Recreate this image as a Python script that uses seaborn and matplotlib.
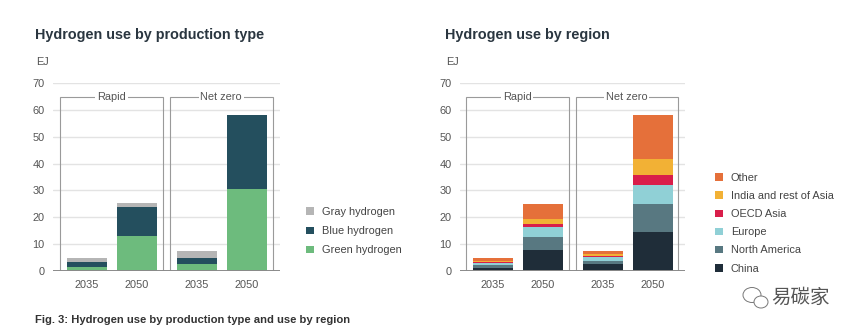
import matplotlib
matplotlib.use("Agg")
import matplotlib.pyplot as plt
import seaborn as sns
import pandas as pd
import numpy as np
from matplotlib.patches import Patch, Ellipse

# ---------------- data ----------------
scenarios = ["Rapid", "Net zero"]
years = ["2035", "2050", "2035", "2050"]

# Hydrogen use by production type (EJ): Rapid 2035, Rapid 2050, NZ 2035, NZ 2050
green_h2 = [1.5, 13.1, 2.4, 30.6]
blue_h2 = [1.6, 10.7, 2.5, 27.6]
gray_h2 = [1.8, 1.4, 2.6, 0.0]
prod_labels = ["Green hydrogen", "Blue hydrogen", "Gray hydrogen"]

# Hydrogen use by region (EJ)
china = [1.1, 7.6, 2.4, 14.4]
north_america = [0.9, 4.9, 1.1, 10.5]
europe = [0.9, 3.7, 1.7, 7.1]
oecd_asia = [0.3, 1.4, 0.4, 3.9]
india_asia = [0.4, 1.8, 0.6, 5.7]
other = [1.3, 5.6, 1.1, 16.6]
region_labels = ["China", "North America", "Europe", "OECD Asia",
                 "India and rest of Asia", "Other"]

prod_colors = ["#6dbb7d", "#244f5e", "#b5b5b5"]
region_colors = ["#1f2d39", "#587881", "#90d0d6", "#d91e4a", "#f2b135", "#e5703a"]

# ---------------- style ----------------
sns.set_theme(style="white")
plt.rcParams["font.family"] = ["Liberation Sans", "Noto Sans CJK SC", "DejaVu Sans"]

TXT = "#555555"
DARK = "#2a3640"
FS = 7.9
pos = np.array([0.0, 1.0, 2.2, 3.2])

fig = plt.figure(figsize=(8.58, 3.34), dpi=100)
W, H = 858.0, 334.0


def axes_px(x0, x1, ytop, ybot):
    return fig.add_axes([x0 / W, 1 - ybot / H, (x1 - x0) / W, (ybot - ytop) / H])


def stacked(ax, layers, colors):
    cum = np.zeros(len(pos))
    tops = []
    for vals in layers:
        cum = cum + np.asarray(vals, dtype=float)
        tops.append(cum.copy())
    for top, c in reversed(list(zip(tops, colors))):
        df = pd.DataFrame({"pos": pos, "val": top})
        sns.barplot(data=df, x="pos", y="val", color=c, width=0.8,
                    native_scale=True, errorbar=None, saturation=1,
                    linewidth=0, ax=ax, zorder=3)


def decorate(ax, title, xl, xr, title_x):
    ax.set_xlim(xl, xr)
    ax.set_ylim(0, 70)
    for s in ax.spines.values():
        s.set_visible(False)
    ax.set_yticks(range(0, 71, 10))
    ax.yaxis.grid(True, color="#e3e3e3", linewidth=1.0, zorder=0)
    ax.set_axisbelow(True)
    ax.axhline(0, color="#8a8a8a", linewidth=1.4, zorder=5)
    ax.set_xticks(pos)
    ax.set_xticklabels(years)
    ax.set_xlabel("")
    ax.set_ylabel("")
    ax.tick_params(axis="both", length=0, labelsize=FS, colors=TXT)
    ax.tick_params(axis="x", pad=7)
    ax.tick_params(axis="y", pad=6)
    # scenario boxes
    boxes = [(-0.54, 1.52), (1.66, 3.71)]
    for (b0, b1), name in zip(boxes, scenarios):
        ax.plot([b0, b0, b1, b1], [0, 65, 65, 0], color="#9a9a9a",
                linewidth=0.8, zorder=4, solid_joinstyle="miter")
        ax.text((b0 + b1) / 2, 65, name, ha="center", va="center",
                fontsize=FS, color=TXT, zorder=6,
                bbox=dict(facecolor="white", edgecolor="none", pad=1.2))
    fig.text(title_x / W, 1 - 35 / H, title, fontsize=10.35,
             fontweight="bold", color=DARK, va="center", ha="left")
    fig.text((title_x + 1) / W, 1 - 62 / H, "EJ", fontsize=FS,
             color=TXT, va="center", ha="left")


# ---------------- left chart ----------------
ax1 = axes_px(53, 280, 83.3, 270.7)
stacked(ax1, [green_h2, blue_h2, gray_h2], prod_colors)
decorate(ax1, "Hydrogen use by production type", -0.68, 3.86, 35)

h1 = [Patch(facecolor=c, edgecolor="none") for c in prod_colors][::-1]
leg1 = fig.legend(h1, prod_labels[::-1], loc="upper left",
                  bbox_to_anchor=(306 / W, 1 - 207 / H), frameon=False,
                  fontsize=FS, handlelength=0.7, handleheight=0.7,
                  handletextpad=0.75, labelspacing=0.84, borderpad=0,
                  borderaxespad=0)
for t in leg1.get_texts():
    t.set_color("#444444")

# ---------------- right chart ----------------
ax2 = axes_px(460, 685, 83.3, 270.7)
stacked(ax2, [china, north_america, europe, oecd_asia, india_asia, other],
        region_colors)
decorate(ax2, "Hydrogen use by region", -0.65, 3.85, 445)

h2 = [Patch(facecolor=c, edgecolor="none") for c in region_colors][::-1]
leg2 = fig.legend(h2, region_labels[::-1], loc="upper left",
                  bbox_to_anchor=(715 / W, 1 - 173 / H), frameon=False,
                  fontsize=FS, handlelength=0.7, handleheight=0.7,
                  handletextpad=0.75, labelspacing=0.74, borderpad=0,
                  borderaxespad=0)
for t in leg2.get_texts():
    t.set_color("#444444")

# ---------------- caption & watermark ----------------
fig.text(35 / W, 1 - 320 / H,
         "Fig. 3: Hydrogen use by production type and use by region",
         fontsize=8.1, fontweight="bold", color="#333333", va="center",
         ha="left")

fig.text(771 / W, 1 - 297 / H, "易碳家", fontsize=14, color="#555555",
         va="center", ha="left", family=["Noto Sans CJK SC", "DejaVu Sans"])
fig.patches.append(Ellipse((752 / W, 1 - 295 / H), 18 / W, 15 / H,
                           transform=fig.transFigure, fill=False,
                           edgecolor="#777777", linewidth=0.7))
fig.patches.append(Ellipse((761 / W, 1 - 302 / H), 14 / W, 12 / H,
                           transform=fig.transFigure, facecolor="white",
                           edgecolor="#777777", linewidth=0.7))

fig.savefig("out.png", dpi=100)
